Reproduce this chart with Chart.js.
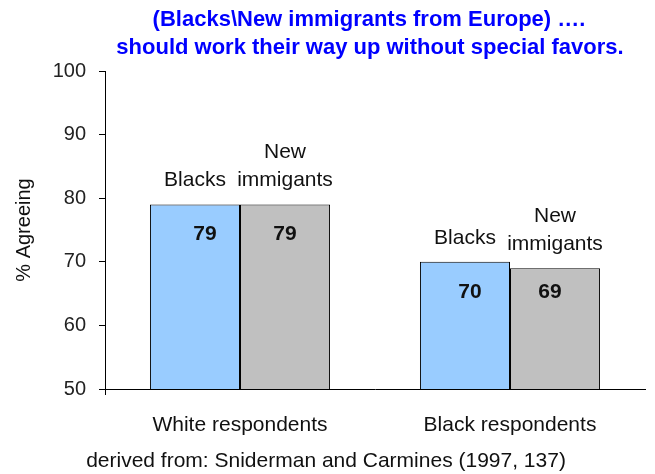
<!DOCTYPE html>
<html>
<head>
<meta charset="utf-8">
<script src="https://cdn.jsdelivr.net/npm/chart.js@4.4.1/dist/chart.umd.min.js"></script>
<style>
  html, body { margin: 0; padding: 0; background: #fff; }
  #wrap { width: 655px; height: 474px; position: relative; }
</style>
</head>
<body>
<div id="wrap"><canvas id="c" width="655" height="474"></canvas></div>
<script>
const categories = ["White respondents", "Black respondents"];
const seriesNames = ["Blacks", "New immigants"];
const blacksValues = [79, 70];
const immigrantsValues = [79, 69];
const yTicks = [50, 60, 70, 80, 90, 100];
const titleLines = ["(Blacks\\New immigrants from Europe) \u2026.", "should work their way up without special favors."];
const footerText = "derived from: Sniderman and Carmines (1997, 137)";
const yAxisTitle = "% Agreeing";

const FONT = "'Liberation Sans', Arial, sans-serif";

const overlay = {
  id: 'overlay',
  afterDatasetsDraw(chart) {
    const ctx = chart.ctx;
    const area = chart.chartArea;
    ctx.save();
    // small axis extension below the origin
    ctx.strokeStyle = '#000';
    ctx.lineWidth = 1;
    ctx.beginPath();
    ctx.moveTo(area.left + 0.5, area.bottom);
    ctx.lineTo(area.left + 0.5, area.bottom + 6);
    ctx.stroke();

    // title
    ctx.fillStyle = '#0000FF';
    ctx.font = 'bold 22px ' + FONT;
    ctx.textAlign = 'center';
    ctx.textBaseline = 'middle';
    const cx = (area.left + area.right) / 2;
    ctx.fillText(titleLines[0], cx - 6, 20);
    ctx.fillText(titleLines[1], cx - 5, 48);

    // series name labels above bars + value labels inside bars
    const metaB = chart.getDatasetMeta(0);
    const metaN = chart.getDatasetMeta(1);
    ctx.fillStyle = '#111';
    for (let i = 0; i < categories.length; i++) {
      const b = metaB.data[i], n = metaN.data[i];
      ctx.font = '21px ' + FONT;
      ctx.textAlign = 'center';
      ctx.fillText(seriesNames[0], b.x, b.y - 24);
      const words = seriesNames[1].split(' ');
      ctx.fillText(words[1], n.x, n.y - 24);
      ctx.fillText(words[0], n.x, n.y - 52);
      ctx.font = 'bold 21px ' + FONT;
      const vy = Math.min(b.y, n.y) + 30;
      ctx.fillText(String(blacksValues[i]), b.x + (i === 0 ? 10 : 5), vy);
      ctx.fillText(String(immigrantsValues[i]), n.x + (i === 0 ? 0 : -5), vy);
    }

    // footer
    ctx.font = '21px ' + FONT;
    ctx.fillStyle = '#111';
    ctx.textAlign = 'center';
    ctx.fillText(footerText, 326, 461);
    ctx.restore();
  }
};

new Chart(document.getElementById('c'), {
  type: 'bar',
  data: {
    labels: categories,
    datasets: [
      { label: seriesNames[0], data: blacksValues, backgroundColor: '#99CCFF', borderColor: '#000', borderWidth: 1, categoryPercentage: 0.667, barPercentage: 1.0 },
      { label: seriesNames[1], data: immigrantsValues, backgroundColor: '#C0C0C0', borderColor: '#000', borderWidth: 1, categoryPercentage: 0.667, barPercentage: 1.0 }
    ]
  },
  options: {
    responsive: false,
    animation: false,
    devicePixelRatio: 1,
    layout: { padding: { top: 71, right: 10, left: 0, bottom: 0 } },
    plugins: { legend: { display: false }, title: { display: false }, tooltip: { enabled: false } },
    scales: {
      x: {
        grid: { display: false },
        border: { display: true, color: '#000', width: 1 },
        ticks: { color: '#111', font: { family: FONT, size: 21 }, padding: 16, maxRotation: 0 },
        afterFit(scale) { scale.height = 85; }
      },
      y: {
        min: 50, max: 100,
        afterBuildTicks(scale) { scale.ticks = yTicks.map(v => ({ value: v })); },
        grid: { drawOnChartArea: false, drawTicks: true, tickLength: 6, color: '#000' },
        border: { display: true, color: '#000', width: 1 },
        ticks: { color: '#222', font: { family: FONT, size: 20 }, padding: 13 },
        title: { display: true, text: yAxisTitle, color: '#111', font: { family: FONT, size: 20 }, padding: { top: 12, bottom: 0 } },
        afterFit(scale) { scale.width = 105; }
      }
    }
  },
  plugins: [overlay]
});
</script>
</body>
</html>
